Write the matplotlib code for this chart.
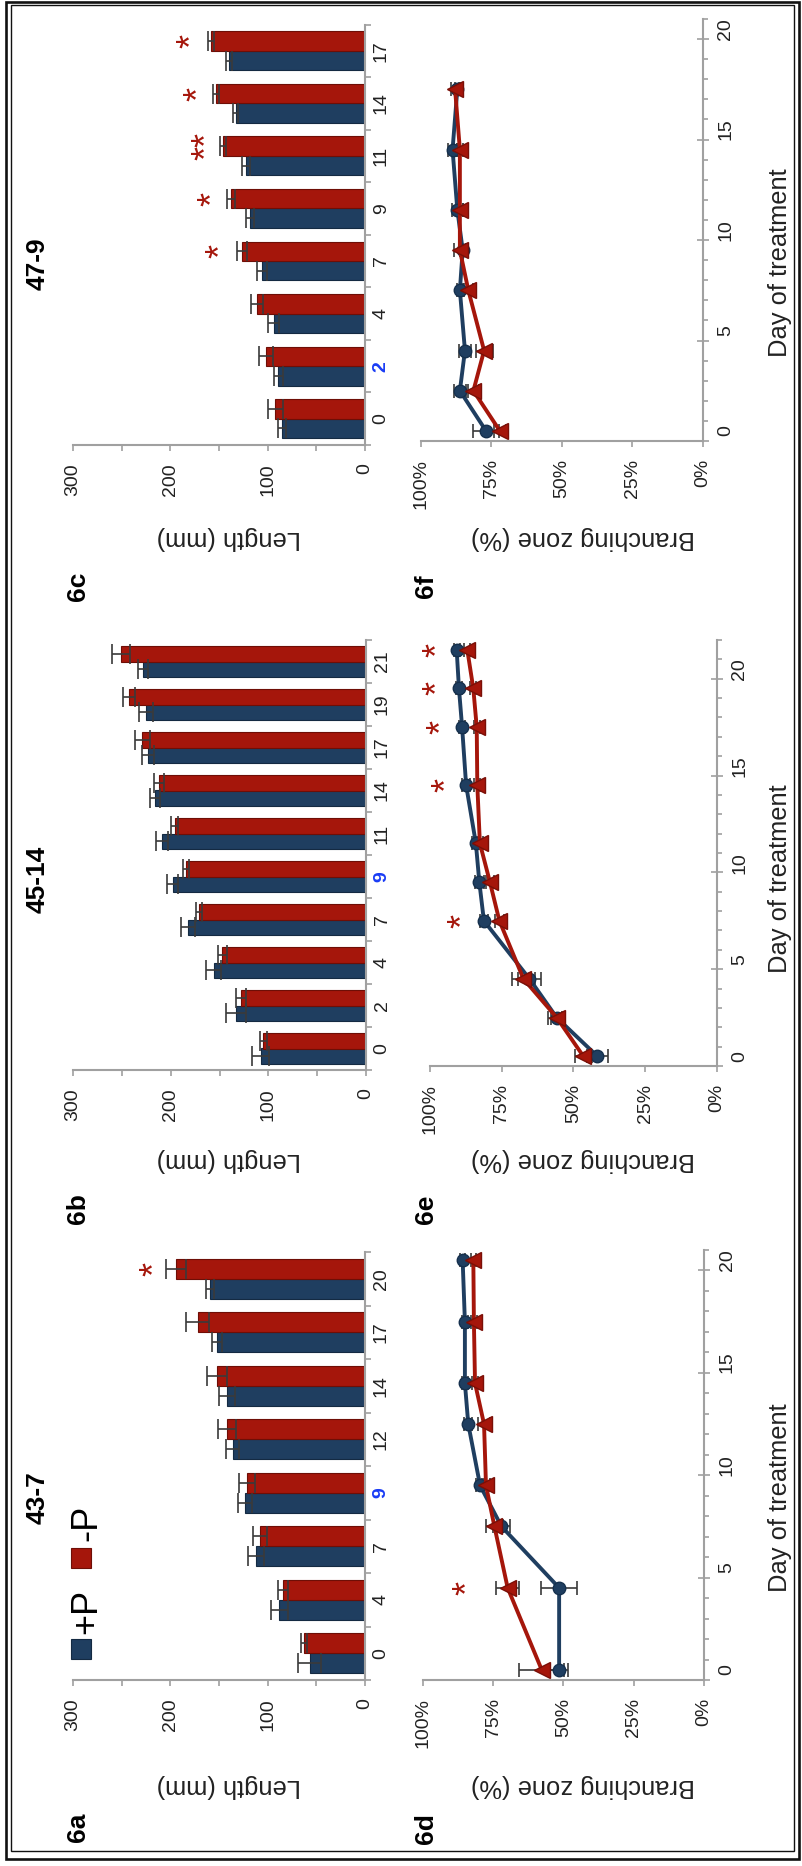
import numpy as np
import matplotlib.pyplot as plt
from matplotlib.patches import Rectangle
from matplotlib.transforms import ScaledTranslation

plt.rcParams['font.family'] = ['Liberation Sans', 'DejaVu Sans']

W, H = 803, 1866
BLUE = '#1f3e60'
RED = '#a5160b'
GRAY = '#a0a0a0'
ERR = '#3a3a3a'
HI = '#1a3cf5'

# 6a  line 43-7, root length (mm)
days_a = [0, 4, 7, 9, 12, 14, 17, 20]
plus_a = [57, 88, 112, 123, 136, 142, 152, 159]
eplus_a = [12, 9, 8, 7, 7, 8, 5, 4]
minus_a = [63, 84, 108, 121, 142, 152, 172, 194]
eminus_a = [3, 5, 7, 8, 9, 10, 12, 10]
star_days_a = [20]
star_vals_a = [224]
star_txt_a = ['*']

# 6b  line 45-14
days_b = [0, 2, 4, 7, 9, 11, 14, 17, 19, 21]
plus_b = [108, 133, 156, 182, 198, 209, 216, 223, 225, 228]
eplus_b = [9, 10, 8, 7, 6, 6, 5, 6, 7, 5]
minus_b = [105, 128, 147, 171, 184, 196, 212, 229, 243, 251]
eminus_b = [4, 5, 5, 3, 3, 4, 5, 8, 6, 9]

# 6c  line 47-9
days_c = [0, 2, 4, 7, 9, 11, 14, 17]
plus_c = [85, 89, 94, 106, 118, 122, 133, 140]
eplus_c = [4, 5, 6, 5, 4, 4, 3, 3]
minus_c = [92, 102, 111, 126, 138, 146, 153, 158]
eminus_c = [8, 7, 6, 5, 4, 3, 3, 3]
star_days_c = [7, 9, 11, 14, 17]
star_vals_c = [156, 165, 171, 179, 186]
star_txt_c = ['*', '*', '**', '*', '*']

# 6d-6f  branching zone (%)
days_d = [0, 4, 7, 9, 12, 14, 17, 20]
plus_d = [51.5, 51.5, 72, 79.6, 83.8, 85, 85, 85.8]
eplus_d = [3.3, 6.5, 3, 1.5, 1.5, 1, 1, 1]
minus_d = [57.7, 69.8, 74.5, 77.5, 78.2, 81.4, 81.8, 82]
eminus_d = [8, 4, 3, 1.5, 2, 1, 1, 1]
star_days_d = [4]
star_vals_d = [86.7]

days_e = [0, 2, 4, 7, 9, 11, 14, 17, 19, 21]
plus_e = [41.6, 55.8, 65.3, 81.2, 82.8, 84, 87.4, 88.8, 89.9, 90.7]
eplus_e = [3.8, 2, 4, 1.5, 1.5, 1.5, 1.5, 1, 1, 1]
minus_e = [46.5, 55.8, 67.4, 75.8, 79.1, 82.6, 83.5, 83.7, 84.9, 87]
eminus_e = [3, 3, 4, 1.5, 1.5, 1, 1, 1, 1, 1]
star_days_e = [7, 14, 17, 19, 21]
star_vals_e = [91.3, 97, 98.8, 100.2, 100.2]

days_f = [0, 2, 4, 7, 9, 11, 14, 17]
plus_f = [76.9, 86.2, 84.4, 86.2, 85.2, 87.1, 88.8, 87.1]
eplus_f = [4.5, 2, 2, 1, 1, 2, 1.5, 1]
minus_f = [72, 81.4, 77.6, 83.2, 86.2, 86.2, 86.2, 87.9]
eminus_f = [2, 2, 3, 1.5, 2, 1, 1, 1.5]

fig = plt.figure(figsize=(W / 100, H / 100), dpi=100)


def px_ax(l, t, r, b):
    return fig.add_axes([l / W, 1 - b / H, (r - l) / W, (b - t) / H])


def ftext(x, y, s, **kw):
    fig.text(x / W, 1 - y / H, s, ha='center', va='center', **kw)


def style_spines(ax):
    for s in ['top', 'left']:
        ax.spines[s].set_visible(False)
    for s in ['bottom', 'right']:
        ax.spines[s].set_color(GRAY)
        ax.spines[s].set_linewidth(1.5)


def stars(ax, ys, vals, txt):
    # glyph sits high in its box, push box so the glyph lands on the value
    tr = ax.transData + ScaledTranslation(0.09, 0, fig.dpi_scale_trans)
    for y, v, s in zip(ys, vals, txt):
        ax.text(v, y, s, color=RED, fontsize=26, rotation=90,
                ha='center', va='center', transform=tr)


def bar_panel(box, days, plus, eplus, minus, eminus, hi_day):
    ax = px_ax(*box)
    pos = np.arange(len(days))
    ekw = dict(ecolor=ERR, elinewidth=1.2, capsize=7, capthick=1.2)
    ax.barh(pos - 0.185, plus, height=0.37, color=BLUE, edgecolor='#142a42',
            linewidth=0.8, xerr=eplus, error_kw=ekw)
    ax.barh(pos + 0.185, minus, height=0.37, color=RED, edgecolor='#6e0e06',
            linewidth=0.8, xerr=eminus, error_kw=ekw)
    ax.set_xlim(300, 0)
    ax.set_ylim(-0.5, len(days) - 0.5)
    style_spines(ax)
    ax.yaxis.tick_right()
    ax.set_yticks(pos, [str(d) for d in days])
    ax.set_yticks(np.arange(-0.5, len(days), 1), minor=True)
    ax.tick_params(axis='y', which='major', length=0, pad=5.5, labelsize=14,
                   labelrotation=90, labelcolor='#222222')
    ax.tick_params(axis='y', which='minor', length=4, width=1.2, color=GRAY)
    ax.set_xticks([0, 100, 200, 300])
    ax.set_xticks([50, 150, 250], minor=True)
    ax.tick_params(axis='x', which='both', length=4, width=1.2, color=GRAY,
                   labelsize=14, labelrotation=90, pad=9, labelcolor='#222222')
    for lbl in ax.get_yticklabels():
        lbl.set_va('center')
        if lbl.get_text() == str(hi_day):
            lbl.set_color(HI)
            lbl.set_fontweight('bold')
    return ax


def line_panel(box, days, plus, eplus, minus, eminus, top):
    ax = px_ax(*box)
    ax.errorbar(plus, days, xerr=eplus, color=BLUE, lw=2.8, marker='o', ms=9,
                mec='#15304d', ecolor=ERR, elinewidth=1.2, capsize=5, capthick=1.2)
    ax.errorbar(minus, days, xerr=eminus, color=RED, lw=2.8, marker='<', ms=11,
                mec='#7a0f07', ecolor=ERR, elinewidth=1.2, capsize=5, capthick=1.2)
    ax.set_xlim(100, 0)
    ax.set_ylim(-0.5, top)
    style_spines(ax)
    ax.yaxis.tick_right()
    ax.set_yticks(np.arange(-0.5, top, 5))
    ax.set_yticks(np.arange(-0.5, top + 0.01, 1), minor=True)
    ax.tick_params(axis='y', which='major', direction='inout', length=8, width=1.2,
                   color=GRAY, labelright=False)
    ax.tick_params(axis='y', which='minor', direction='out', length=3.6, width=1.2,
                   color=GRAY)
    sec = ax.secondary_yaxis('right')
    sec.set_yticks([0, 5, 10, 15, 20])
    sec.tick_params(length=0, pad=10.5, labelsize=14, labelrotation=90,
                    labelcolor='#222222')
    sec.spines['right'].set_visible(False)
    for lbl in sec.get_yticklabels():
        lbl.set_va('center')
    ticks = [0, 25, 50, 75, 100]
    ax.set_xticks(ticks, [f'{t}%' for t in ticks])
    ax.tick_params(axis='x', length=4, width=1.2, color=GRAY, labelsize=14,
                   labelrotation=90, pad=9, labelcolor='#222222')
    return ax


# top row of the landscape figure (left column here)
ax_a = bar_panel((73, 1252, 365, 1680), days_a, plus_a, eplus_a, minus_a, eminus_a, 9)
stars(ax_a, [days_a.index(d) + 0.185 for d in star_days_a], star_vals_a, star_txt_a)
ax_b = bar_panel((73, 640, 366, 1070), days_b, plus_b, eplus_b, minus_b, eminus_b, 9)
ax_c = bar_panel((73, 24.5, 365, 445), days_c, plus_c, eplus_c, minus_c, eminus_c, 2)
stars(ax_c, [days_c.index(d) + 0.185 for d in star_days_c], star_vals_c, star_txt_c)

ax_d = line_panel((422.7, 1250, 704, 1680), days_d, plus_d, eplus_d, minus_d, eminus_d, 20.5)
stars(ax_d, star_days_d, star_vals_d, ['*'] * len(star_days_d))
ax_e = line_panel((430, 640, 716.7, 1066), days_e, plus_e, eplus_e, minus_e, eminus_e, 21.5)
stars(ax_e, star_days_e, star_vals_e, ['*'] * len(star_days_e))
ax_f = line_panel((421, 19, 702.7, 441), days_f, plus_f, eplus_f, minus_f, eminus_f, 20.5)

# axis titles
for y in [1786, 1160, 538]:
    ftext(229, y, 'Length (mm)', fontsize=18.4, rotation=180, color='#222222')
    ftext(582.5, y, 'Branching zone (%)', fontsize=18.4, rotation=180, color='#222222')
for y in [1498, 879, 263]:
    ftext(780, y, 'Day of treatment', fontsize=18.4, rotation=90, color='#222222')

# line names and panel letters
for y, s in zip([1498, 879, 264], ['43-7', '45-14', '47-9']):
    ftext(37.5, y, s, fontsize=19, fontweight='bold', rotation=90)
for x, y, s in [(78, 1827, '6a'), (78, 1209, '6b'), (78, 586, '6c'),
                (426, 1829, '6d'), (426, 1209, '6e'), (426, 586, '6f')]:
    ftext(x, y, s, fontsize=19, fontweight='bold', rotation=90)

# legend
for yc, col, ec in [(1649, BLUE, '#142a42'), (1558, RED, '#6e0e06')]:
    fig.patches.append(Rectangle((71 / W, 1 - (yc + 10) / H), 20 / W, 20 / H,
                                 facecolor=col, edgecolor=ec, lw=0.8,
                                 transform=fig.transFigure))
ftext(87, 1611, '+P', fontsize=26, rotation=90)
ftext(87, 1523, '-P', fontsize=26, rotation=90)

# double frame
fig.patches.append(Rectangle((6 / W, 1 - 1858.5 / H), 793 / W, 1857 / H, fill=False,
                             lw=1.9, edgecolor='#111111', transform=fig.transFigure))
fig.patches.append(Rectangle((11 / W, 1 - 1850.5 / H), 783 / W, 1845.5 / H, fill=False,
                             lw=1.0, edgecolor='#111111', transform=fig.transFigure))

fig.savefig('out.png', dpi=100)
